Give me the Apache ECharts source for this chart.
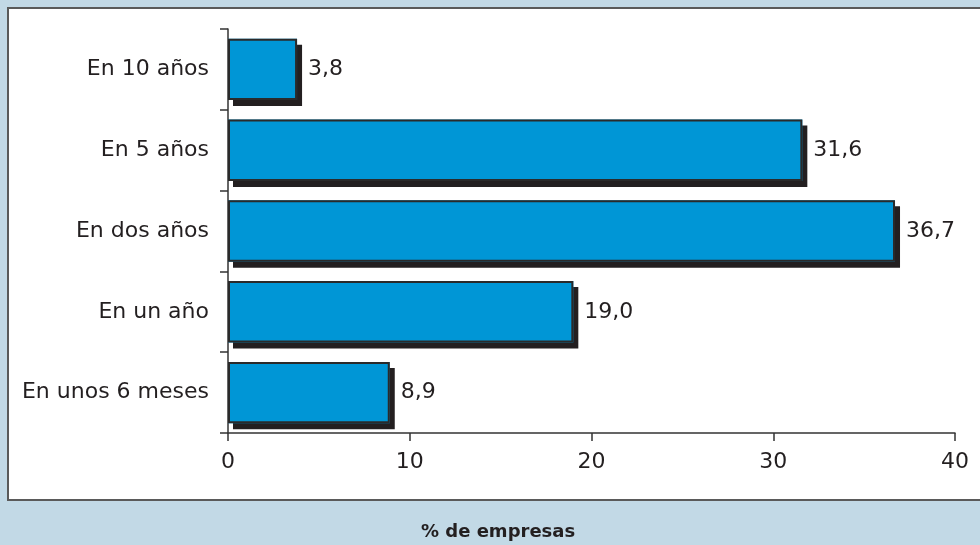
<!DOCTYPE html>
<html>
<head>
<meta charset="utf-8">
<script src="https://cdn.jsdelivr.net/npm/echarts@6/dist/echarts.min.js"></script>
<style>
  html, body { margin: 0; padding: 0; background: #c2d9e6; }
  #chart { width: 980px; height: 545px; }
</style>
</head>
<body>
<div id="chart"></div>
<script>
// Plazo previsto, de abajo arriba
const categories = ['En unos 6 meses', 'En un año', 'En dos años', 'En 5 años', 'En 10 años'];
const values = [8.9, 19.0, 36.7, 31.6, 3.8];
const xTicks = [0, 10, 20, 30, 40];
const axisTitle = '% de empresas';

const FONT = 'DejaVu Sans, Verdana, sans-serif';
const INK = '#231f20';
const FS = 22;

const chart = echarts.init(document.getElementById('chart'), null, { renderer: 'canvas' });

chart.setOption({
  backgroundColor: '#c2d9e6',
  animation: false,
  graphic: [
    {
      type: 'rect',
      z: -10,
      shape: { x: 8, y: 8, width: 990, height: 492 },
      style: { fill: '#ffffff', stroke: '#5a5a5a', lineWidth: 2 }
    },
    {
      type: 'text',
      left: 421,
      top: 523,
      style: {
        text: axisTitle,
        font: 'bold 18px ' + FONT,
        fill: INK
      }
    }
  ],
  grid: { left: 228, right: 25, top: 29, bottom: 112, containLabel: false },
  xAxis: {
    type: 'value',
    min: xTicks[0],
    max: xTicks[xTicks.length - 1],
    interval: 10,
    splitLine: { show: false },
    axisLine: { show: true, lineStyle: { color: '#333', width: 1.5 } },
    axisTick: { show: true, length: 8, lineStyle: { color: '#333', width: 1.5 } },
    axisLabel: { margin: 18, fontSize: FS, fontFamily: FONT, color: INK }
  },
  yAxis: {
    type: 'category',
    data: categories,
    axisLine: { show: true, lineStyle: { color: '#333', width: 1.5 } },
    axisTick: { show: true, length: 8, alignWithLabel: false, lineStyle: { color: '#333', width: 1.5 } },
    axisLabel: { margin: 19, fontSize: FS, fontFamily: FONT, color: INK }
  },
  series: [
    {
      // filled bar with its drop shadow
      type: 'bar',
      data: values,
      barCategoryGap: '24%',
      barGap: '-100%',
      itemStyle: {
        color: '#0096d6',
        borderWidth: 0,
        shadowColor: INK,
        shadowBlur: 0,
        shadowOffsetX: 5,
        shadowOffsetY: 6
      }
    },
    {
      // outline and value label on top
      type: 'bar',
      data: values,
      barCategoryGap: '24%',
      barGap: '-100%',
      itemStyle: {
        color: 'rgba(0,0,0,0)',
        borderColor: '#2a2a2a',
        borderWidth: 2
      },
      label: {
        show: true,
        position: 'right',
        distance: 11,
        fontSize: FS,
        fontFamily: FONT,
        color: INK,
        formatter: p => p.value.toFixed(1).replace('.', ',')
      }
    }
  ]
});
</script>
</body>
</html>
